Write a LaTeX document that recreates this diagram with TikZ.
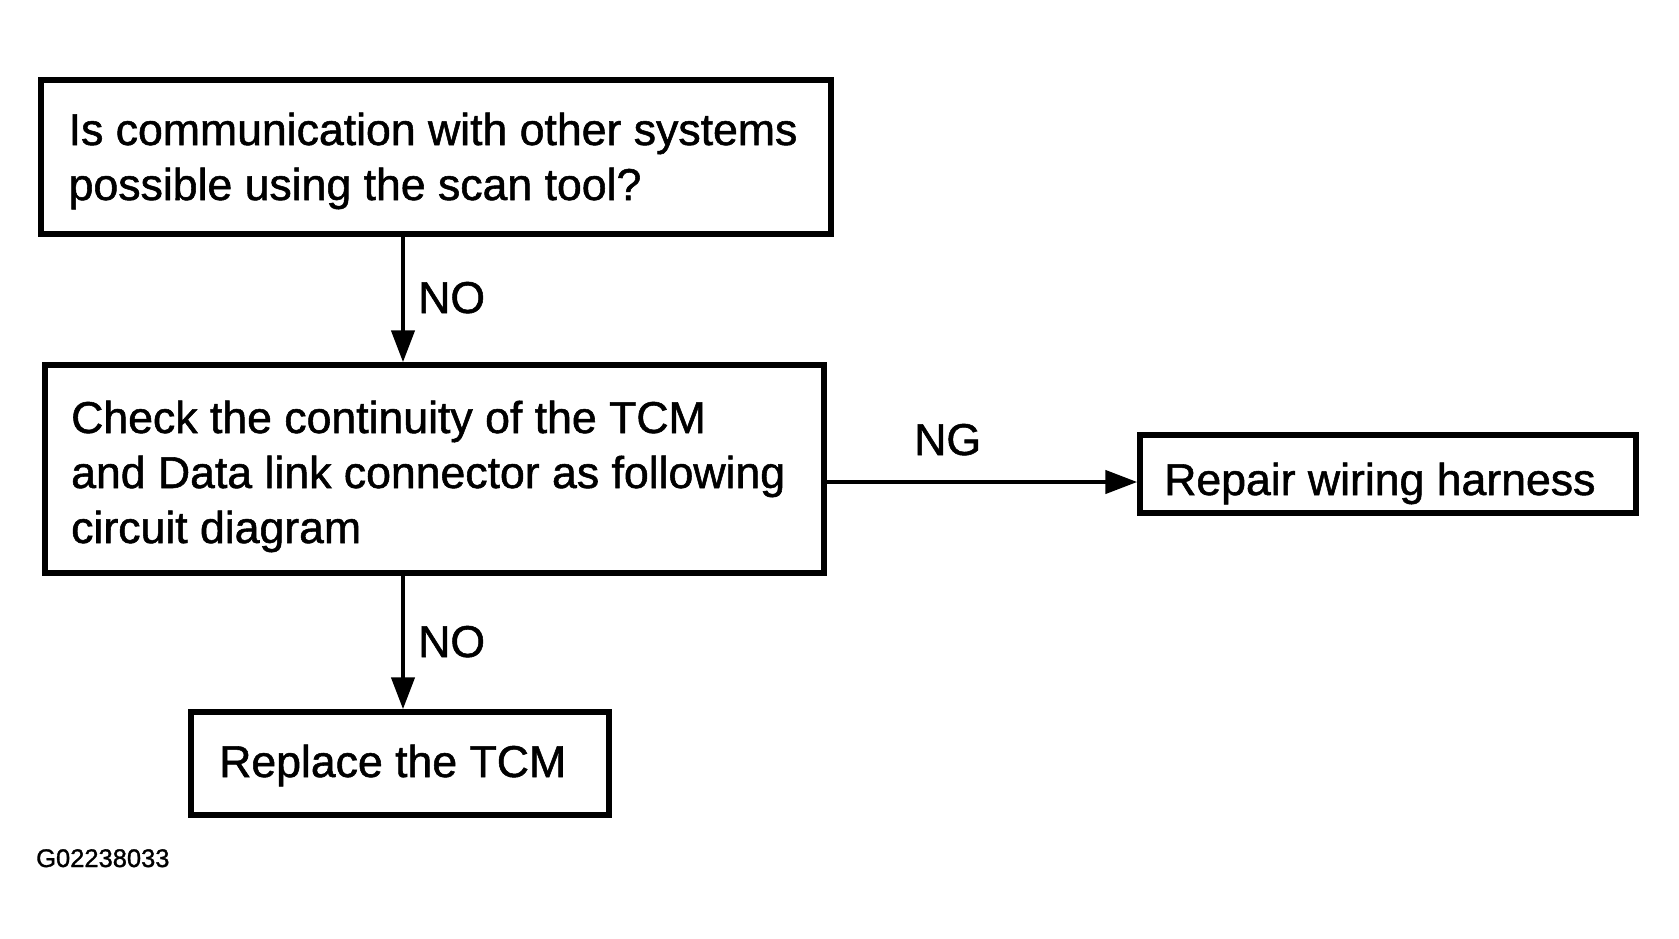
\documentclass[tikz,border=0pt]{standalone}
\usepackage{fontspec}
\setmainfont[FakeBold=1.2,AutoFakeBold=1.2]{Liberation Sans}
\usetikzlibrary{arrows.meta}
\tikzset{
  box/.style={draw=black, line width=5.5pt, rectangle, inner sep=0pt},
  txt/.style={inner sep=0pt, align=left, font=\bfseries\fontsize{44.6}{55}\selectfont, anchor=base west},
  lbl/.style={inner sep=0pt, font=\bfseries\fontsize{44.6}{55}\selectfont, anchor=base west},
  code/.style={inner sep=0pt, font=\bfseries\fontsize{25.5}{30}\selectfont, anchor=base west},
  arr/.style={draw=black, line width=4.5pt, -{Triangle[length=32pt,width=23pt]}}
}
\begin{document}
\begin{tikzpicture}[x=1pt,y=-1pt]
\useasboundingbox[fill=white] (0,0) rectangle (1679,938);
% boxes
\node[box, minimum width=790pt, minimum height=154pt] (b1) at (436,157) {};
\node[box, minimum width=779pt, minimum height=208pt] (b2) at (434.5,469) {};
\node[box, minimum width=496pt, minimum height=78pt] (b3) at (1388,474) {};
\node[box, minimum width=418pt, minimum height=103pt] (b4) at (400,763.5) {};
% texts (anchor = baseline of last line)
\node[txt] (t1) at (68.5,200) {Is communication with other systems\\possible using the scan tool?};
\node[txt] (t2) at (71,543) {Check the continuity of the TCM\\and Data link connector as following\\circuit diagram};
\node[txt] (t3) at (1164,495) {Repair wiring harness};
\node[txt] (t4) at (219,777) {Replace the TCM};
% connectors
\coordinate (cv) at (403,0);
\coordinate (ch) at (0,482);
\draw[arr] (b1.south -| cv) -- (b2.north -| cv);
\draw[arr] (b2.south -| cv) -- (b4.north -| cv);
\draw[arr] (b2.east |- ch) -- (b3.west |- ch);
% labels
\node[lbl] (no1) at (418,313) {NO};
\node[lbl] (no2) at (418,657) {NO};
\node[lbl] (ng) at (914,455) {NG};
\node[code] (g) at (36,867) {G02238033};
\end{tikzpicture}
\end{document}
